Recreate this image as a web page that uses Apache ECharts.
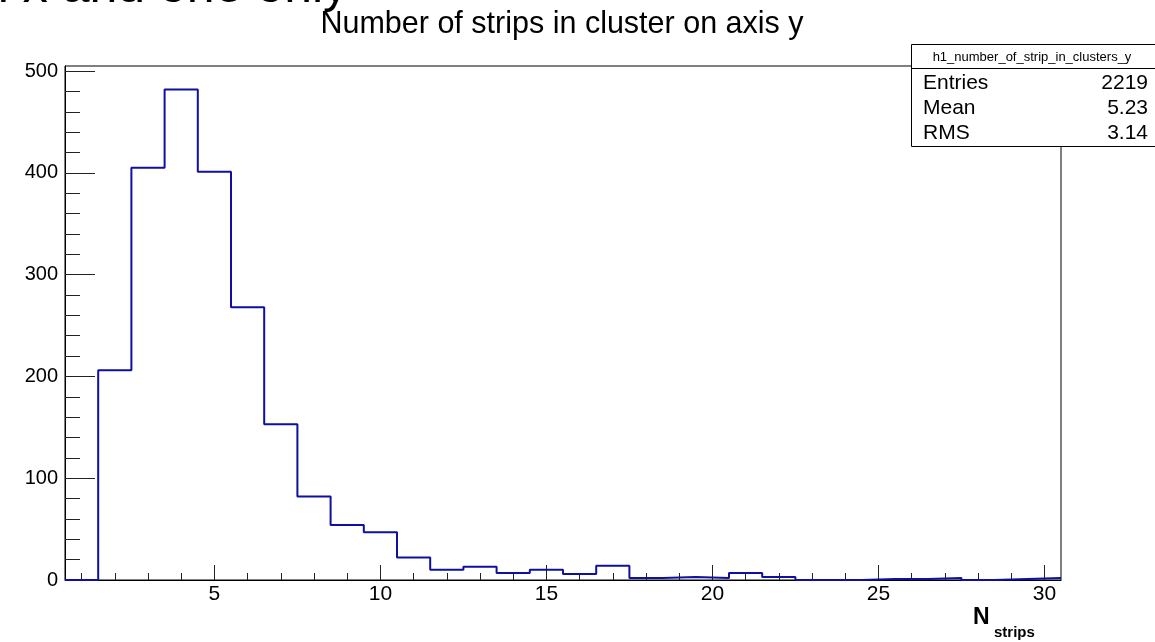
<!DOCTYPE html>
<html>
<head>
<meta charset="utf-8">
<title>Number of strips in cluster on axis y</title>
<script src="https://cdn.jsdelivr.net/npm/echarts@6/dist/echarts.min.js"></script>
<style>
  html, body { margin: 0; padding: 0; background: #fff; overflow: hidden; }
  #chart { width: 1155px; height: 642px; }
</style>
</head>
<body>
<div id="chart"></div>
<script>
// Histogram contents: one bin per strip count, bins centred on integers 1..30
const xRange = [0.5, 30.5];
const yRange = [0, 505];
const counts = [0, 206, 405, 482, 401, 268, 153, 82, 54, 47,
                22, 10, 13, 7, 10, 6, 14, 2, 3, 2,
                7, 3, 0, 0, 1, 1, 2, 0, 1, 2];
const xTickLabels = [5, 10, 15, 20, 25, 30];
const xMinorTicks = [1, 2, 3, 4, 5, 6, 7, 8, 9, 10, 11, 12, 13, 14, 15,
                     16, 17, 18, 19, 20, 21, 22, 23, 24, 25, 26, 27, 28, 29, 30];
const yTickLabels = [0, 100, 200, 300, 400, 500];
const yMinorTicks = [0, 20, 40, 60, 80, 100, 120, 140, 160, 180, 200, 220, 240, 260,
                     280, 300, 320, 340, 360, 380, 400, 420, 440, 460, 480, 500];
const titleText = 'Number of strips in cluster on axis y';
const headerText = 'in x and one only';
const statsName = 'h1_number_of_strip_in_clusters_y';
const statsLabels = ['Entries', 'Mean', 'RMS'];
const statsValues = ['2219', '5.23', '3.14'];

const FONT = '"Liberation Sans", Arial, Helvetica, sans-serif';
const LINE = '#1010a0';

// Step outline: left edge of each bin, plus the closing right edge
const stepData = counts.map((c, i) => [xRange[0] + i, c]);
stepData.push([xRange[1], counts[counts.length - 1]]);

const chart = echarts.init(document.getElementById('chart'), null, { renderer: 'canvas' });

const statsGraphics = [
  {
    type: 'rect',
    shape: { x: 911.5, y: 44.5, width: 260, height: 102 },
    style: { fill: '#fff', stroke: '#000', lineWidth: 1 },
    z: 100
  },
  {
    type: 'line',
    shape: { x1: 911.5, y1: 68.5, x2: 1160, y2: 68.5 },
    style: { stroke: '#000', lineWidth: 1 },
    z: 101
  },
  {
    type: 'text',
    x: 1032, y: 57,
    style: { text: statsName, font: '13px ' + FONT, fill: '#000', align: 'center', verticalAlign: 'middle' },
    z: 102
  }
];
statsLabels.forEach((lab, i) => {
  const cy = 83 + i * 25;
  statsGraphics.push({
    type: 'text', x: 923, y: cy,
    style: { text: lab, font: '21px ' + FONT, fill: '#000', align: 'left', verticalAlign: 'middle' },
    z: 102
  });
  statsGraphics.push({
    type: 'text', x: 1148, y: cy,
    style: { text: statsValues[i], font: '21px ' + FONT, fill: '#000', align: 'right', verticalAlign: 'middle' },
    z: 102
  });
});

const option = {
  animation: false,
  backgroundColor: '#fff',
  grid: {
    left: 65, right: 94, top: 66, bottom: 62,
    show: true, borderColor: '#000', borderWidth: 1, backgroundColor: 'transparent'
  },
  xAxis: [
    {
      type: 'value', position: 'bottom', min: xRange[0], max: xRange[1],
      axisLine: { show: true, lineStyle: { color: '#000', width: 1 } },
      axisTick: { show: true, inside: true, length: 15, customValues: xTickLabels, lineStyle: { color: '#222' } },
      axisLabel: { show: true, customValues: xTickLabels, margin: 4, fontSize: 21, fontFamily: FONT, color: '#000' },
      splitLine: { show: false }
    },
    {
      type: 'value', position: 'bottom', min: xRange[0], max: xRange[1],
      axisLine: { show: false },
      axisTick: { show: true, inside: true, length: 7, customValues: xMinorTicks, lineStyle: { color: '#222' } },
      axisLabel: { show: false },
      splitLine: { show: false }
    }
  ],
  yAxis: [
    {
      type: 'value', position: 'left', min: yRange[0], max: yRange[1],
      axisLine: { show: true, lineStyle: { color: '#000', width: 1 } },
      axisTick: { show: true, inside: true, length: 30, customValues: yTickLabels, lineStyle: { color: '#222' } },
      axisLabel: { show: true, customValues: yTickLabels, margin: 7, fontSize: 20, fontFamily: FONT, color: '#000' },
      splitLine: { show: false }
    },
    {
      type: 'value', position: 'left', min: yRange[0], max: yRange[1],
      axisLine: { show: false },
      axisTick: { show: true, inside: true, length: 15, customValues: yMinorTicks, lineStyle: { color: '#222' } },
      axisLabel: { show: false },
      splitLine: { show: false }
    }
  ],
  series: [
    {
      type: 'line',
      xAxisIndex: 0, yAxisIndex: 0,
      step: 'end',
      data: stepData,
      showSymbol: false,
      symbol: 'none',
      lineStyle: { color: LINE, width: 2 },
      clip: true,
      z: 5
    }
  ],
  graphic: [
    {
      type: 'text', x: -30, y: -12,
      style: { text: headerText, font: '50px ' + FONT, fill: '#000', align: 'left', verticalAlign: 'middle' }
    },
    {
      type: 'text', x: 562, y: 25,
      style: { text: titleText, font: '30.5px ' + FONT, fill: '#000', align: 'center', verticalAlign: 'middle' }
    },
    {
      type: 'text', x: 973, y: 618,
      style: { text: 'N', font: 'bold 23px ' + FONT, fill: '#000', align: 'left', verticalAlign: 'middle' }
    },
    {
      type: 'text', x: 994, y: 633,
      style: { text: 'strips', font: 'bold 15px ' + FONT, fill: '#000', align: 'left', verticalAlign: 'middle' }
    }
  ].concat(statsGraphics)
};

chart.setOption(option);
</script>
</body>
</html>
